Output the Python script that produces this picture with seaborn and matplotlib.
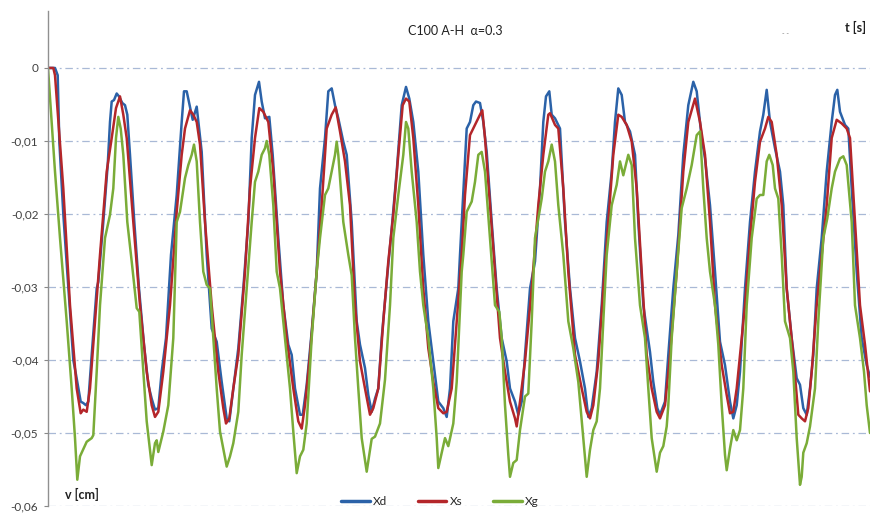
import numpy as np
import pandas as pd
import matplotlib
matplotlib.use("Agg")
import matplotlib.pyplot as plt
import seaborn as sns

# ---------------- data (t in s, v in cm) ----------------
xd_t = [0.000, 0.070, 0.097, 0.113, 0.153, 0.203, 0.253, 0.280, 0.327, 0.353, 0.380, 0.403, 0.437, 0.487, 0.503,
        0.553, 0.597, 0.620, 0.637, 0.660, 0.687, 0.710, 0.743, 0.770, 0.793, 0.820, 0.863, 0.910, 0.960, 1.003,
        1.037, 1.070, 1.103, 1.137, 1.180, 1.230, 1.287, 1.337, 1.360, 1.387, 1.447, 1.487, 1.537, 1.587, 1.637,
        1.687, 1.737, 1.787, 1.813, 1.853, 1.903, 1.953, 2.003, 2.037, 2.070, 2.110, 2.137, 2.170, 2.213, 2.247,
        2.303, 2.353, 2.403, 2.437, 2.470, 2.520, 2.547, 2.587, 2.637, 2.687, 2.720, 2.770, 2.803, 2.837, 2.870,
        2.903, 2.953, 2.987, 3.037, 3.087, 3.120, 3.170, 3.203, 3.237, 3.270, 3.303, 3.337, 3.387, 3.437, 3.487,
        3.537, 3.580, 3.613, 3.653, 3.703, 3.753, 3.803, 3.853, 3.903, 3.953, 3.987, 4.020, 4.053, 4.103, 4.120,
        4.187, 4.220, 4.253, 4.280, 4.320, 4.353, 4.387, 4.437, 4.487, 4.537, 4.587, 4.620, 4.670, 4.703, 4.737,
        4.770, 4.820, 4.870, 4.920, 4.953, 4.980, 5.013, 5.037, 5.070, 5.120, 5.170, 5.220, 5.270, 5.320, 5.370,
        5.403, 5.437, 5.487, 5.537, 5.587, 5.637, 5.670, 5.703, 5.737, 5.770, 5.820, 5.870, 5.903, 5.953, 6.020,
        6.053, 6.093, 6.120, 6.170, 6.203, 6.253, 6.303, 6.353, 6.403, 6.453, 6.487, 6.537, 6.570, 6.620, 6.670,
        6.720, 6.770, 6.820, 6.853, 6.887, 6.920, 6.970, 7.020, 7.070, 7.120, 7.153, 7.187, 7.220, 7.270, 7.320,
        7.353, 7.387, 7.437, 7.487, 7.520, 7.553, 7.587, 7.620, 7.653, 7.687, 7.737, 7.787, 7.837, 7.870, 7.893,
        7.920, 7.970, 8.003, 8.037, 8.087, 8.137, 8.187, 8.220]
xd_v = [0.0000, 0.0000, -0.0010, -0.0100, -0.0200, -0.0300, -0.0400, -0.0420, -0.0457, -0.0459, -0.0462, -0.0457,
        -0.0393, -0.0302, -0.0293, -0.0211, -0.0133, -0.0074, -0.0046, -0.0044, -0.0035, -0.0039, -0.0048, -0.0051,
        -0.0064, -0.0119, -0.0211, -0.0302, -0.0379, -0.0434, -0.0453, -0.0468, -0.0466, -0.0416, -0.0370, -0.0256,
        -0.0174, -0.0074, -0.0032, -0.0032, -0.0071, -0.0053, -0.0115, -0.0256, -0.0357, -0.0375, -0.0430, -0.0480,
        -0.0484, -0.0439, -0.0384, -0.0302, -0.0211, -0.0096, -0.0037, -0.0019, -0.0046, -0.0069, -0.0067, -0.0119,
        -0.0233, -0.0325, -0.0379, -0.0393, -0.0439, -0.0475, -0.0475, -0.0434, -0.0361, -0.0279, -0.0165, -0.0096,
        -0.0032, -0.0028, -0.0051, -0.0069, -0.0101, -0.0119, -0.0211, -0.0347, -0.0379, -0.0411, -0.0448, -0.0471,
        -0.0453, -0.0439, -0.0370, -0.0293, -0.0220, -0.0142, -0.0051, -0.0026, -0.0042, -0.0074, -0.0142, -0.0256,
        -0.0347, -0.0402, -0.0457, -0.0466, -0.0478, -0.0439, -0.0347, -0.0302, -0.0256, -0.0083, -0.0074, -0.0051,
        -0.0046, -0.0048, -0.0074, -0.0115, -0.0211, -0.0302, -0.0370, -0.0402, -0.0439, -0.0457, -0.0475, -0.0457,
        -0.0393, -0.0302, -0.0265, -0.0165, -0.0074, -0.0039, -0.0032, -0.0064, -0.0069, -0.0083, -0.0211, -0.0302,
        -0.0370, -0.0402, -0.0439, -0.0478, -0.0466, -0.0416, -0.0325, -0.0211, -0.0142, -0.0074, -0.0028, -0.0037,
        -0.0074, -0.0087, -0.0119, -0.0211, -0.0325, -0.0389, -0.0430, -0.0466, -0.0475, -0.0457, -0.0393, -0.0302,
        -0.0229, -0.0119, -0.0051, -0.0019, -0.0032, -0.0096, -0.0124, -0.0188, -0.0279, -0.0375, -0.0407, -0.0457,
        -0.0480, -0.0462, -0.0416, -0.0302, -0.0211, -0.0142, -0.0087, -0.0064, -0.0030, -0.0074, -0.0110, -0.0142,
        -0.0188, -0.0302, -0.0370, -0.0425, -0.0434, -0.0466, -0.0475, -0.0439, -0.0393, -0.0302, -0.0233, -0.0142,
        -0.0074, -0.0037, -0.0030, -0.0060, -0.0078, -0.0083, -0.0165, -0.0279, -0.0370, -0.0407, -0.0423]

xs_t = [0.000, 0.053, 0.070, 0.153, 0.220, 0.287, 0.327, 0.353, 0.387, 0.420, 0.470, 0.520, 0.587, 0.637, 0.680,
        0.720, 0.753, 0.787, 0.853, 0.920, 0.987, 1.037, 1.070, 1.103, 1.153, 1.220, 1.287, 1.337, 1.370, 1.420,
        1.453, 1.487, 1.520, 1.570, 1.637, 1.703, 1.753, 1.780, 1.813, 1.853, 1.903, 1.970, 2.020, 2.070, 2.113,
        2.153, 2.203, 2.253, 2.320, 2.387, 2.453, 2.503, 2.537, 2.570, 2.620, 2.687, 2.737, 2.787, 2.837, 2.877,
        2.920, 2.970, 3.020, 3.070, 3.120, 3.170, 3.220, 3.253, 3.303, 3.353, 3.403, 3.453, 3.503, 3.547, 3.580,
        3.613, 3.653, 3.703, 3.753, 3.803, 3.853, 3.903, 3.953, 3.987, 4.037, 4.087, 4.137, 4.170, 4.220, 4.270,
        4.320, 4.343, 4.370, 4.420, 4.470, 4.520, 4.570, 4.620, 4.670, 4.687, 4.720, 4.770, 4.837, 4.903, 4.953,
        5.003, 5.020, 5.070, 5.103, 5.153, 5.203, 5.270, 5.337, 5.387, 5.420, 5.453, 5.503, 5.553, 5.603, 5.653,
        5.703, 5.737, 5.787, 5.837, 5.887, 5.937, 5.987, 6.037, 6.087, 6.120, 6.170, 6.220, 6.287, 6.353, 6.403,
        6.470, 6.520, 6.570, 6.620, 6.670, 6.737, 6.787, 6.820, 6.853, 6.887, 6.937, 6.970, 7.020, 7.070, 7.120,
        7.170, 7.203, 7.237, 7.287, 7.337, 7.387, 7.453, 7.503, 7.537, 7.570, 7.603, 7.637, 7.687, 7.737, 7.787,
        7.837, 7.887, 7.937, 7.987, 8.020, 8.070, 8.120, 8.170, 8.220]
xs_v = [0.0000, 0.0000, -0.0010, -0.0165, -0.0325, -0.0439, -0.0473, -0.0468, -0.0471, -0.0439, -0.0347, -0.0256,
        -0.0142, -0.0096, -0.0055, -0.0039, -0.0064, -0.0096, -0.0211, -0.0325, -0.0416, -0.0462, -0.0478, -0.0471,
        -0.0416, -0.0325, -0.0197, -0.0119, -0.0083, -0.0058, -0.0064, -0.0074, -0.0105, -0.0211, -0.0325, -0.0416,
        -0.0466, -0.0487, -0.0480, -0.0439, -0.0393, -0.0279, -0.0165, -0.0096, -0.0055, -0.0060, -0.0074, -0.0142,
        -0.0279, -0.0370, -0.0439, -0.0484, -0.0494, -0.0462, -0.0393, -0.0279, -0.0188, -0.0083, -0.0064, -0.0054,
        -0.0087, -0.0128, -0.0188, -0.0325, -0.0402, -0.0439, -0.0475, -0.0466, -0.0439, -0.0347, -0.0265, -0.0201,
        -0.0119, -0.0051, -0.0042, -0.0046, -0.0096, -0.0188, -0.0302, -0.0384, -0.0430, -0.0466, -0.0473, -0.0471,
        -0.0439, -0.0347, -0.0256, -0.0174, -0.0092, -0.0078, -0.0064, -0.0058, -0.0096, -0.0188, -0.0279, -0.0370,
        -0.0416, -0.0457, -0.0480, -0.0491, -0.0457, -0.0402, -0.0302, -0.0188, -0.0119, -0.0064, -0.0062, -0.0078,
        -0.0083, -0.0165, -0.0279, -0.0393, -0.0439, -0.0471, -0.0480, -0.0462, -0.0402, -0.0302, -0.0211, -0.0119,
        -0.0064, -0.0067, -0.0078, -0.0101, -0.0165, -0.0279, -0.0393, -0.0439, -0.0471, -0.0480, -0.0462, -0.0393,
        -0.0279, -0.0142, -0.0074, -0.0042, -0.0074, -0.0119, -0.0211, -0.0325, -0.0407, -0.0448, -0.0473, -0.0471,
        -0.0439, -0.0370, -0.0325, -0.0233, -0.0156, -0.0101, -0.0083, -0.0067, -0.0074, -0.0119, -0.0188, -0.0302,
        -0.0393, -0.0475, -0.0480, -0.0484, -0.0466, -0.0416, -0.0325, -0.0256, -0.0188, -0.0096, -0.0071, -0.0076,
        -0.0083, -0.0096, -0.0211, -0.0325, -0.0379, -0.0443]

xg_t = [0.000, 0.037, 0.070, 0.120, 0.187, 0.237, 0.270, 0.293, 0.320, 0.387, 0.437, 0.453, 0.487, 0.520, 0.570,
        0.620, 0.653, 0.680, 0.703, 0.727, 0.753, 0.793, 0.837, 0.887, 0.913, 0.953, 0.987, 1.037, 1.070, 1.087,
        1.103, 1.153, 1.203, 1.253, 1.287, 1.320, 1.370, 1.403, 1.437, 1.460, 1.487, 1.520, 1.553, 1.587, 1.620,
        1.653, 1.687, 1.720, 1.787, 1.820, 1.853, 1.903, 1.937, 1.987, 2.037, 2.070, 2.103, 2.137, 2.170, 2.187,
        2.213, 2.253, 2.287, 2.320, 2.370, 2.420, 2.453, 2.487, 2.520, 2.553, 2.587, 2.637, 2.687, 2.720, 2.770,
        2.803, 2.837, 2.870, 2.887, 2.903, 2.953, 3.003, 3.037, 3.070, 3.103, 3.137, 3.187, 3.220, 3.237, 3.270,
        3.320, 3.370, 3.420, 3.453, 3.503, 3.553, 3.580, 3.603, 3.637, 3.687, 3.720, 3.753, 3.803, 3.853, 3.887,
        3.903, 3.937, 3.970, 4.003, 4.053, 4.087, 4.137, 4.153, 4.187, 4.237, 4.270, 4.303, 4.337, 4.370, 4.420,
        4.470, 4.513, 4.537, 4.570, 4.603, 4.620, 4.653, 4.687, 4.720, 4.770, 4.803, 4.837, 4.870, 4.903, 4.937,
        4.970, 5.003, 5.037, 5.070, 5.103, 5.153, 5.203, 5.253, 5.303, 5.353, 5.387, 5.420, 5.453, 5.487, 5.520,
        5.553, 5.587, 5.637, 5.687, 5.720, 5.753, 5.803, 5.837, 5.870, 5.920, 5.970, 6.003, 6.037, 6.087, 6.120,
        6.153, 6.187, 6.203, 6.237, 6.287, 6.337, 6.387, 6.437, 6.487, 6.520, 6.553, 6.587, 6.620, 6.670, 6.703,
        6.737, 6.770, 6.787, 6.820, 6.853, 6.887, 6.920, 6.953, 6.987, 7.037, 7.087, 7.120, 7.153, 7.187, 7.213,
        7.247, 7.270, 7.303, 7.337, 7.370, 7.420, 7.453, 7.487, 7.520, 7.537, 7.553, 7.587, 7.620, 7.670, 7.703,
        7.753, 7.793, 7.837, 7.870, 7.920, 7.953, 7.987, 8.037, 8.070, 8.120, 8.160, 8.187, 8.220]
xg_v = [0.0000, -0.0074, -0.0142, -0.0233, -0.0347, -0.0439, -0.0507, -0.0564, -0.0532, -0.0512, -0.0507, -0.0503,
        -0.0416, -0.0325, -0.0233, -0.0201, -0.0165, -0.0096, -0.0067, -0.0083, -0.0119, -0.0211, -0.0265, -0.0329,
        -0.0334, -0.0416, -0.0484, -0.0544, -0.0514, -0.0510, -0.0526, -0.0498, -0.0462, -0.0370, -0.0211, -0.0197,
        -0.0151, -0.0133, -0.0119, -0.0105, -0.0128, -0.0211, -0.0279, -0.0297, -0.0302, -0.0370, -0.0439, -0.0498,
        -0.0546, -0.0532, -0.0514, -0.0471, -0.0393, -0.0302, -0.0211, -0.0156, -0.0142, -0.0119, -0.0110, -0.0100,
        -0.0119, -0.0188, -0.0279, -0.0302, -0.0370, -0.0439, -0.0498, -0.0555, -0.0532, -0.0523, -0.0487, -0.0370,
        -0.0279, -0.0233, -0.0174, -0.0165, -0.0142, -0.0119, -0.0101, -0.0119, -0.0211, -0.0256, -0.0284, -0.0370,
        -0.0439, -0.0507, -0.0553, -0.0523, -0.0508, -0.0505, -0.0487, -0.0427, -0.0325, -0.0233, -0.0174, -0.0119,
        -0.0074, -0.0083, -0.0142, -0.0211, -0.0279, -0.0325, -0.0370, -0.0439, -0.0507, -0.0548, -0.0527, -0.0507,
        -0.0518, -0.0487, -0.0430, -0.0279, -0.0256, -0.0197, -0.0183, -0.0156, -0.0119, -0.0115, -0.0142, -0.0233,
        -0.0325, -0.0334, -0.0370, -0.0462, -0.0530, -0.0560, -0.0541, -0.0537, -0.0496, -0.0450, -0.0446, -0.0347,
        -0.0233, -0.0206, -0.0179, -0.0142, -0.0128, -0.0105, -0.0128, -0.0188, -0.0256, -0.0347, -0.0384, -0.0430,
        -0.0507, -0.0560, -0.0523, -0.0496, -0.0484, -0.0439, -0.0347, -0.0256, -0.0188, -0.0160, -0.0128, -0.0147,
        -0.0119, -0.0133, -0.0233, -0.0325, -0.0370, -0.0439, -0.0507, -0.0553, -0.0527, -0.0518, -0.0491, -0.0462,
        -0.0370, -0.0279, -0.0192, -0.0165, -0.0133, -0.0092, -0.0087, -0.0165, -0.0233, -0.0279, -0.0325, -0.0379,
        -0.0462, -0.0530, -0.0551, -0.0521, -0.0496, -0.0510, -0.0496, -0.0439, -0.0325, -0.0233, -0.0179, -0.0174,
        -0.0174, -0.0128, -0.0119, -0.0133, -0.0165, -0.0179, -0.0256, -0.0347, -0.0370, -0.0416, -0.0507, -0.0571,
        -0.0560, -0.0527, -0.0514, -0.0491, -0.0439, -0.0347, -0.0233, -0.0206, -0.0165, -0.0142, -0.0124, -0.0121,
        -0.0133, -0.0211, -0.0325, -0.0370, -0.0416, -0.0462, -0.0500]

series_names = ["Xd", "Xs", "Xg"]
series_colors = ["#2b62a8", "#b4262a", "#7aac38"]
y_ticks = [0.0, -0.01, -0.02, -0.03, -0.04, -0.05, -0.06]
y_tick_labels = ["0", "-0,01", "-0,02", "-0,03", "-0,04", "-0,05", "-0,06"]
title_text = "C100 A-H  \u03b1=0.3"
x_label = "t [s]"
y_label = "v [cm]"

frames = []
for name, t, v in zip(series_names, [xd_t, xs_t, xg_t], [xd_v, xs_v, xg_v]):
    frames.append(pd.DataFrame({"t": t, "v": v, "series": name}))
df = pd.concat(frames, ignore_index=True)

# ---------------- plot ----------------
sns.set_style("white")
plt.rcParams["font.family"] = ["Lato", "DejaVu Sans"]

fig = plt.figure(figsize=(8.81, 5.13), dpi=100)
ax = fig.add_axes([48 / 881, 1 - 506 / 513, (870 - 48) / 881, (506 - 11) / 513])

sns.lineplot(data=df, x="t", y="v", hue="series", hue_order=series_names,
             palette=series_colors, sort=False, estimator=None, linewidth=1.8,
             ax=ax, legend=True)

ax.set_xlim(0, 8.22)
ax.set_ylim(-0.06, 0.0078)
ax.set_yticks(y_ticks)
ax.set_yticklabels(y_tick_labels, fontsize=8.5, color="#404040")
ax.set_xticks([])
ax.set_xlabel("")
ax.set_ylabel("")
ax.tick_params(axis="y", length=3, width=0.8, color="#888888", pad=4, left=True)

for sp in ["top", "right", "bottom"]:
    ax.spines[sp].set_visible(False)
ax.spines["left"].set_color("#909090")
ax.spines["left"].set_linewidth(1.0)

for yv in y_ticks:
    ax.axhline(yv, color="#a9b9d6", linewidth=0.9, linestyle=(0, (6, 3, 1.5, 3)), zorder=0)

# texts
fig.text(455 / 881, 1 - 31 / 513, title_text, ha="center", va="center", fontsize=9, color="#202020")
fig.text(866 / 881, 1 - 27 / 513, x_label, ha="right", va="center", fontsize=9, fontweight="bold", color="#202020")
fig.text(785 / 881, 1 - 33 / 513, "- -", ha="center", va="center", fontsize=5, color="#808080")
fig.text(65 / 881, 1 - 494 / 513, y_label, ha="left", va="center", fontsize=9, fontweight="bold", color="#202020")

handles, labels = ax.get_legend_handles_labels()
ax.legend_.remove()
leg = fig.legend(handles, labels, loc="center", bbox_to_anchor=(440 / 881, 1 - 502 / 513),
                 ncol=3, frameon=False, fontsize=8.5, handlelength=2.4, columnspacing=2.6,
                 handletextpad=0.3)
for line in leg.get_lines():
    line.set_linewidth(2.5)

fig.savefig("out.png", dpi=100)
